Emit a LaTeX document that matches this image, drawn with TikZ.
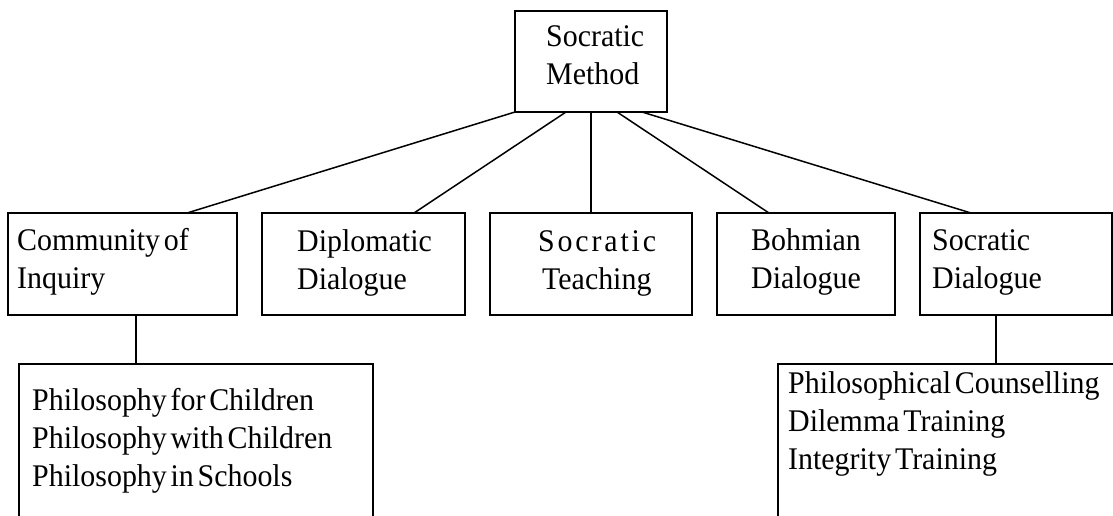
\documentclass[tikz,border=0pt]{standalone}
\usepackage{fontspec}
\setmainfont{Liberation Serif}[WordSpace=0.5, FakeStretch=0.95]
\usetikzlibrary{positioning}
\begin{document}
\begin{tikzpicture}[
		x=1pt, y=-1pt,
		box/.style={
			draw,
			rectangle,
			line width=1.5pt,
			anchor=north west,
			inner sep=0pt,
			outer sep=0pt,
			minimum height=102pt
		},
		caption/.style={
			anchor=base west,
			align=left,
			inner sep=0pt,
			font=\fontsize{31.5}{38}\selectfont
		},
		link/.style={line width=1.5pt}
	]
		\useasboundingbox (0,0) rectangle (1113,515);
		\clip (0,0) rectangle (1113,515);
		
		\draw node[box, minimum width=152pt, minimum height=101pt] at (515,11) (SM){};
		\draw node[box, minimum width=229pt] at (8,213) (CoI){};
		\draw node[box, minimum width=203pt, right=25pt of CoI](DD){};
		\draw node[box, minimum width=202pt, right=25pt of DD](ST){};
		\draw node[box, minimum width=178pt, right=25pt of ST](BD){};
		\draw node[box, minimum width=192pt, right=25pt of BD](SD){};
		\draw node[box, minimum width=354pt, minimum height=200pt] at (19,364) (P4C){};
		\draw node[box, minimum width=400pt, minimum height=200pt] at (778,364) (PC){};
		
		% base of a caption is the baseline of its last line
		\node [caption] (SMtext) at([xshift=31pt, yshift=-73pt] SM.north west) {Socratic\\ Method};
		\node [caption] (CoItext) at([xshift=9pt, yshift=-75pt] CoI.north west) {Community of\\ Inquiry};
		\node [caption] (DDtext) at([xshift=35pt, yshift=-76pt] DD.north west) {Diplomatic\\ Dialogue};
		\node [caption] (STtext) at([xshift=48pt, yshift=-76pt] ST.north west) {{\addfontfeature{LetterSpace=9}Socratic}\\ \hspace*{4pt}Teaching};
		\node [caption] (BDtext) at([xshift=34pt, yshift=-75pt] BD.north west) {Bohmian\\ Dialogue};
		\node [caption] (SDtext) at([xshift=12pt, yshift=-75pt] SD.north west) {Socratic\\ Dialogue};
		\node [caption] (P4Ctext) at([xshift=13pt, yshift=-122pt] P4C.north west) {Philosophy for Children\\ Philosophy with Children\\ Philosophy in Schools};
		\node [caption] (PCtext) at([xshift=10pt, yshift=-105pt] PC.north west) {Philosophical Counselling\\ Dilemma Training\\ Integrity Training};
		
		\draw[link] (SM.south west) -- ([xshift=64.5pt] CoI.north);
		\draw[link] ([xshift=-25pt] SM.south) -- ([xshift=50.5pt] DD.north);
		\draw[link] (SM.south) -- (ST.north);
		\draw[link] ([xshift=26pt] SM.south) -- ([xshift=-37pt] BD.north);
		\draw[link] ([xshift=51pt] SM.south) -- ([xshift=-45pt] SD.north);
		\draw[link] ([xshift=13.5pt] CoI.south) -- ([xshift=13.5pt] CoI.south |- P4C.north);
		\draw[link] ([xshift=-20pt] SD.south) -- ([xshift=-20pt] SD.south |- PC.north);
	\end{tikzpicture}
\end{document}
